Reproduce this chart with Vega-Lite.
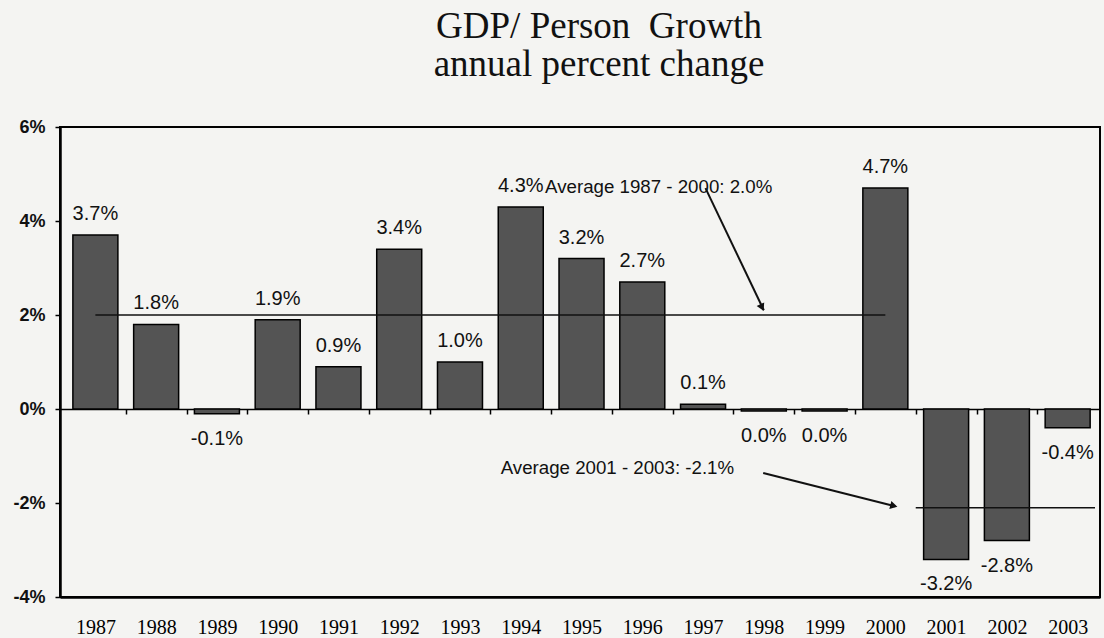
{
  "$schema": "https://vega.github.io/schema/vega-lite/v6.json",
  "autosize": {"type": "none"},
  "padding": {"left": 60, "top": 127, "right": 4, "bottom": 41},
  "width": 1040,
  "height": 470,
  "background": "#f4f4f2",
  "config": {
    "view": {"stroke": "#000000", "strokeWidth": 2},
    "axis": {"grid": false, "title": null}
  },
  "title": {
    "text": ["GDP/ Person\u00a0 Growth", "annual percent change"],
    "font": "Liberation Serif",
    "fontSize": 37,
    "fontWeight": "normal",
    "color": "#111111",
    "anchor": "middle",
    "dx": 19,
    "baseline": "bottom",
    "offset": -3,
    "lineHeight": 38
  },
  "data": {
    "values": [
      {"year": 1987, "value": 3.7, "label": "3.7%"},
      {"year": 1988, "value": 1.8, "label": "1.8%"},
      {"year": 1989, "value": -0.1, "label": "-0.1%"},
      {"year": 1990, "value": 1.9, "label": "1.9%"},
      {"year": 1991, "value": 0.9, "label": "0.9%"},
      {"year": 1992, "value": 3.4, "label": "3.4%"},
      {"year": 1993, "value": 1.0, "label": "1.0%"},
      {"year": 1994, "value": 4.3, "label": "4.3%"},
      {"year": 1995, "value": 3.2, "label": "3.2%"},
      {"year": 1996, "value": 2.7, "label": "2.7%"},
      {"year": 1997, "value": 0.1, "label": "0.1%"},
      {"year": 1998, "value": -0.04, "label": "0.0%"},
      {"year": 1999, "value": -0.04, "label": "0.0%"},
      {"year": 2000, "value": 4.7, "label": "4.7%"},
      {"year": 2001, "value": -3.2, "label": "-3.2%"},
      {"year": 2002, "value": -2.8, "label": "-2.8%"},
      {"year": 2003, "value": -0.4, "label": "-0.4%"}
    ]
  },
  "resolve": {"axis": {"x": "independent", "y": "independent"}},
  "layer": [
    {
      "mark": {"type": "bar", "width": 45, "color": "#545454", "stroke": "#000000", "strokeWidth": 1.5},
      "encoding": {
        "x": {
          "field": "year", "type": "quantitative",
          "scale": {"domain": [1986.5, 2003.45], "nice": false, "zero": false},
          "axis": {
            "values": [1987, 1988, 1989, 1990, 1991, 1992, 1993, 1994, 1995, 1996, 1997, 1998, 1999, 2000, 2001, 2002, 2003],
            "format": "d",
            "labelFont": "Liberation Serif",
            "labelFontSize": 20,
            "labelColor": "#000000",
            "labelPadding": 20,
            "ticks": false,
            "domainColor": "#000000",
            "domainWidth": 2.5,
            "labelFlush": false,
            "labelOverlap": false
          }
        },
        "y": {
          "field": "value", "type": "quantitative",
          "scale": {"domain": [-4, 6], "nice": false},
          "axis": {
            "values": [-4, -2, 0, 2, 4, 6],
            "labelExpr": "datum.value + '%'",
            "labelFont": "Liberation Sans",
            "labelFontSize": 18,
            "labelFontWeight": "bold",
            "labelColor": "#111111",
            "labelPadding": 10,
            "tickSize": 5,
            "tickColor": "#000000",
            "tickWidth": 1.5,
            "domainColor": "#000000",
            "domainWidth": 2.5
          }
        }
      }
    },
    {
      "transform": [{"filter": "datum.value >= 0"}],
      "mark": {"type": "text", "font": "Liberation Sans", "fontSize": 20, "color": "#111111", "dy": -21, "baseline": "middle"},
      "encoding": {
        "x": {
          "field": "year", "type": "quantitative",
          "axis": {
            "orient": "bottom",
            "offset": -188,
            "values": [1987.5, 1988.5, 1989.5, 1990.5, 1991.5, 1992.5, 1993.5, 1994.5, 1995.5, 1996.5, 1997.5, 1998.5, 1999.5, 2000.5, 2001.5, 2002.5],
            "labels": false,
            "tickSize": 5,
            "tickColor": "#000000",
            "tickWidth": 1.5,
            "domainColor": "#000000",
            "domainWidth": 1.5
          }
        },
        "y": {"field": "value", "type": "quantitative", "axis": null},
        "text": {"field": "label"}
      }
    },
    {
      "transform": [{"filter": "datum.value < 0"}],
      "mark": {"type": "text", "font": "Liberation Sans", "fontSize": 20, "color": "#111111", "dy": 25, "baseline": "middle"},
      "encoding": {
        "x": {"field": "year", "type": "quantitative", "axis": null},
        "y": {"field": "value", "type": "quantitative", "axis": null},
        "text": {"field": "label"}
      }
    },
    {
      "data": {"values": [
        {"start": 1987, "end": 2000, "avg": 2.0},
        {"start": 2000.5, "end": 2003.45, "avg": -2.1}
      ]},
      "mark": {"type": "rule", "color": "#111111", "strokeWidth": 1.5},
      "encoding": {
        "x": {"field": "start", "type": "quantitative", "axis": null},
        "x2": {"field": "end"},
        "y": {"field": "avg", "type": "quantitative", "axis": null}
      }
    },
    {
      "data": {"values": [
        {"x": 1994.4, "y": 4.72, "text": "Average 1987 - 2000: 2.0%"},
        {"x": 1993.67, "y": -1.26, "text": "Average 2001 - 2003: -2.1%"}
      ]},
      "mark": {"type": "text", "font": "Liberation Sans", "fontSize": 18.7, "color": "#111111", "align": "left", "baseline": "middle"},
      "encoding": {
        "x": {"field": "x", "type": "quantitative", "axis": null},
        "y": {"field": "y", "type": "quantitative", "axis": null},
        "text": {"field": "text"}
      }
    },
    {
      "data": {"values": [
        {"x": 1997.04, "y": 4.7, "x2": 1998.0, "y2": 2.1},
        {"x": 1997.99, "y": -1.36, "x2": 2000.16, "y2": -2.07}
      ]},
      "mark": {"type": "rule", "color": "#111111", "strokeWidth": 2},
      "encoding": {
        "x": {"field": "x", "type": "quantitative", "axis": null},
        "y": {"field": "y", "type": "quantitative", "axis": null},
        "x2": {"field": "x2"},
        "y2": {"field": "y2"}
      }
    },
    {
      "data": {"values": [{"x": 1997.97, "y": 2.16}]},
      "mark": {"type": "point", "shape": "triangle-up", "filled": true, "color": "#111111", "opacity": 1, "size": 70, "angle": 154.5},
      "encoding": {
        "x": {"field": "x", "type": "quantitative", "axis": null},
        "y": {"field": "y", "type": "quantitative", "axis": null}
      }
    },
    {
      "data": {"values": [{"x": 2000.14, "y": -2.06}]},
      "mark": {"type": "point", "shape": "triangle-up", "filled": true, "color": "#111111", "opacity": 1, "size": 70, "angle": 104},
      "encoding": {
        "x": {"field": "x", "type": "quantitative", "axis": null},
        "y": {"field": "y", "type": "quantitative", "axis": null}
      }
    }
  ]
}
